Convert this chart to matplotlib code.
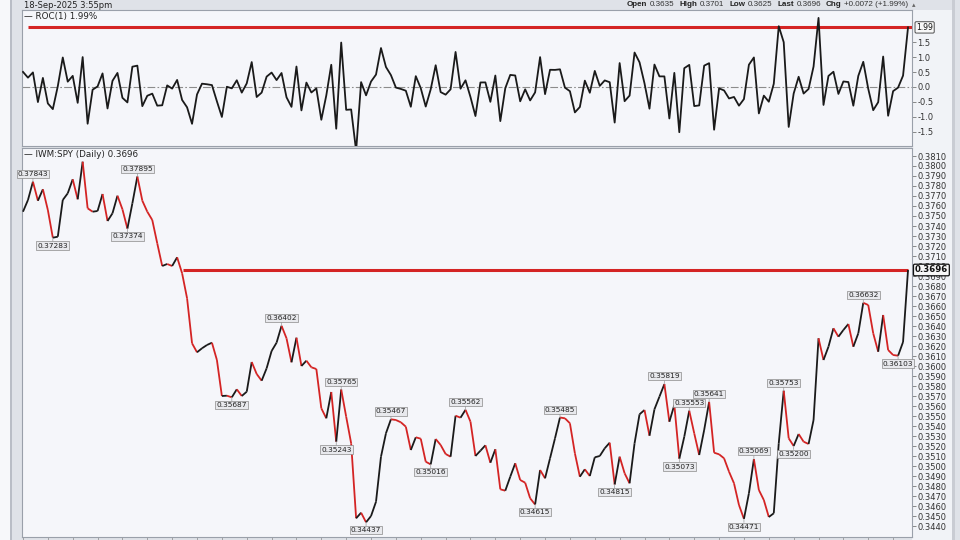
import numpy as np
import matplotlib
matplotlib.use("Agg")
import matplotlib.pyplot as plt
from matplotlib.collections import LineCollection
from matplotlib.patches import Rectangle

# ---- data -------------------------------------------------------------
prev_close = 0.37355
price = [
    0.37543, 0.37660, 0.37843, 0.37653, 0.37767, 0.37560, 0.37283, 0.37293, 0.37660, 0.37727,
    0.37867, 0.37667, 0.38043, 0.37577, 0.37543, 0.37550, 0.37720, 0.37450, 0.37527, 0.37703,
    0.37567, 0.37374, 0.37627, 0.37895, 0.37653, 0.37543, 0.37460, 0.37227, 0.37000, 0.37020,
    0.37000, 0.37087, 0.36927, 0.36677, 0.36227, 0.36137, 0.36177, 0.36210, 0.36233, 0.36060,
    0.35700, 0.35703, 0.35687, 0.35767, 0.35700, 0.35743, 0.36040, 0.35920, 0.35853, 0.35977,
    0.36150, 0.36233, 0.36402, 0.36277, 0.36037, 0.36283, 0.36000, 0.36053, 0.35987, 0.35970,
    0.35577, 0.35477, 0.35740, 0.35243, 0.35765, 0.35493, 0.35227, 0.34477, 0.34533, 0.34437,
    0.34500, 0.34643, 0.35093, 0.35327, 0.35467, 0.35460, 0.35437, 0.35393, 0.35160, 0.35287,
    0.35273, 0.35043, 0.35016, 0.35270, 0.35210, 0.35120, 0.35093, 0.35503, 0.35483, 0.35562,
    0.35443, 0.35100, 0.35153, 0.35207, 0.35033, 0.35167, 0.34767, 0.34753, 0.34893, 0.35027,
    0.34860, 0.34833, 0.34677, 0.34615, 0.34960, 0.34877, 0.35077, 0.35277, 0.35485, 0.35477,
    0.35427, 0.35127, 0.34893, 0.34967, 0.34900, 0.35087, 0.35100, 0.35177, 0.35233, 0.34815,
    0.35093, 0.34927, 0.34827, 0.35227, 0.35517, 0.35560, 0.35303, 0.35567, 0.35693, 0.35819,
    0.35443, 0.35610, 0.35073, 0.35293, 0.35553, 0.35327, 0.35110, 0.35360, 0.35641, 0.35133,
    0.35117, 0.35077, 0.34943, 0.34827, 0.34610, 0.34471, 0.34727, 0.35069, 0.34760, 0.34660,
    0.34490, 0.34527, 0.35227, 0.35753, 0.35277, 0.35200, 0.35320, 0.35243, 0.35220, 0.35460,
    0.36277, 0.36060, 0.36193, 0.36377, 0.36293, 0.36360, 0.36420, 0.36193, 0.36327, 0.36632,
    0.36610, 0.36327, 0.36143, 0.36510, 0.36160, 0.36110, 0.36103, 0.36240, 0.36960,
]

# swing high / low annotations (index into price, side of label)
label_idx = [2, 6, 21, 23, 42, 52, 63, 64, 69, 74, 82, 89, 103, 108,
             119, 129, 132, 134, 138, 145, 147, 153, 155, 169, 176]
label_side = ["up", "dn", "dn", "up", "dn", "up", "dn", "up", "dn", "up", "dn", "up", "dn", "up",
              "dn", "up", "dn", "up", "up", "dn", "up", "up", "dn", "up", "dn"]

price_ticks = [0.3440 + 0.001 * k for k in range(38)]
roc_ticks = [-1.5, -1.0, -0.5, 0.0, 0.5, 1.0, 1.5]

header_date = "18-Sep-2025 3:55pm"
quote_lab = ["Open", "High", "Low", "Last", "Chg"]
quote_val = ["0.3635", "0.3701", "0.3625", "0.3696", "+0.0072 (+1.99%)"]

# ---- derived indicator: ROC(1) -----------------------------------------
px = np.array(price)
closes = np.concatenate([[prev_close], px])
roc = 100 * np.diff(closes) / closes[:-1]
x = np.arange(len(px))

# ---- figure -------------------------------------------------------------
W, H = 960, 540
fig = plt.figure(figsize=(9.6, 5.4), dpi=100, facecolor="#dfe2e8")


def rect(x0, y0, x1, y1):
    return [x0 / W, 1 - y1 / H, (x1 - x0) / W, (y1 - y0) / H]


def ftext(px_x, px_y, s, **kw):
    return fig.text(px_x / W, 1 - px_y / H, s, **kw)


# background bits around the panels (kept under the axes)
for (bx, by, bw, bh, c) in [(912, 0, 40, 530, "#f1f3f7"), (0, 0, 10, 540, "#f7f8fa"),
                            (10, 0, 2, 540, "#b9bdc6"), (952, 0, 3, 540, "#c9ccd3")]:
    fig.patches.append(Rectangle((bx / W, by / H), bw / W, bh / H, transform=fig.transFigure,
                                 fc=c, ec="none", zorder=-10))

ax_roc = fig.add_axes(rect(22, 10, 912, 146))
ax_px = fig.add_axes(rect(22, 148, 912, 537))

panel_bg = "#f5f6fa"
red = "#d42424"
for ax in (ax_roc, ax_px):
    ax.set_facecolor(panel_bg)
    for sp in ax.spines.values():
        sp.set_color("#9aa0aa")
        sp.set_linewidth(0.8)
    ax.yaxis.tick_right()
    ax.tick_params(axis="y", labelsize=6, labelcolor="#333333", color="#777777",
                   length=3, width=0.6, pad=1)
    ax.set_xlim(-0.2, 178.8)

# ---- ROC panel ----------------------------------------------------------
ax_roc.plot(x, roc, color="#1a1a1a", lw=1.3, zorder=3)
ax_roc.axhline(0, color="#8c8c8c", lw=0.8, ls=(0, (7, 2, 1.5, 2)), zorder=1)
ax_roc.hlines(roc[-1], 1, 178.8, color=red, lw=2.2, zorder=2)
ax_roc.set_ylim(-1.967, 2.567)
ax_roc.set_yticks(roc_ticks)
ax_roc.set_yticklabels([f"{v:.1f}" for v in roc_ticks])
ax_roc.set_xticks([])
ax_roc.annotate(f"{roc[-1]:.2f}", xy=(1, roc[-1]), xycoords=("axes fraction", "data"),
                xytext=(3, 0), textcoords="offset points", va="center", ha="left",
                fontsize=5.5, color="#111111", annotation_clip=False,
                bbox=dict(boxstyle="round,pad=0.15", fc="#f8f8f8", ec="#333333", lw=0.6))

# ---- price panel --------------------------------------------------------
pts = np.column_stack([x, px])
segs = np.stack([pts[:-1], pts[1:]], axis=1)
seg_col = [red if b < a else "#1a1a1a" for a, b in zip(px[:-1], px[1:])]
ax_px.add_collection(LineCollection(segs, colors=seg_col, linewidths=1.3, zorder=3))
ax_px.hlines(px[-1], 32.2, x[-1], color=red, lw=2.2, zorder=2)
ax_px.set_ylim(0.3429, 0.3818)
ax_px.set_yticks(price_ticks)
ax_px.set_yticklabels([f"{v:.4f}" for v in price_ticks])
ax_px.set_xticks(np.arange(0, 179, 5))
ax_px.tick_params(axis="x", length=2, width=0.5, color="#888888", labelbottom=False)

for i, side in zip(label_idx, label_side):
    dy = 3.5 if side == "up" else -3.5
    ax_px.annotate(f"{price[i]:.5f}", xy=(i, price[i]), xytext=(0, dy),
                   textcoords="offset points", ha="center",
                   va="bottom" if side == "up" else "top",
                   fontsize=5.3, color="#222222", zorder=5,
                   bbox=dict(boxstyle="square,pad=0.15", fc="#e8e9ed", ec="#8a8a8a", lw=0.5),
                   arrowprops=dict(arrowstyle="-", color="#999999", lw=0.5,
                                   shrinkA=0, shrinkB=0))

ax_px.annotate(f"{price[-1]:.4f}", xy=(1, price[-1]), xycoords=("axes fraction", "data"),
               xytext=(2, 0), textcoords="offset points", va="center", ha="left",
               fontsize=6.2, fontweight="bold", color="#111111", annotation_clip=False,
               zorder=6,
               bbox=dict(boxstyle="round,pad=0.15", fc="#f8f8f8", ec="#111111", lw=0.9))

# ---- text ---------------------------------------------------------------
ftext(24, 5, header_date, fontsize=6, color="#222222", va="center")

# quote line laid out piece by piece from the left
renderer = fig.canvas.get_renderer()
cur = 627
for lab, val in zip(quote_lab, quote_val):
    t = ftext(cur, 5, lab, fontsize=5.8, family="Liberation Sans", fontweight="bold",
              color="#222222", va="center")
    cur += t.get_window_extent(renderer).width + 2.5
    t = ftext(cur, 5, val, fontsize=5.8, family="Liberation Sans", color="#333333",
              va="center")
    cur += t.get_window_extent(renderer).width + 5
ftext(cur - 2, 5, "\u25b4", fontsize=5, color="#666666", va="center")

ftext(24, 17, "\u2014 ROC(1) %.2f%%" % roc[-1], fontsize=6.3, color="#222222", va="center")
ftext(24, 155, "\u2014 IWM:SPY (Daily) %.4f" % price[-1], fontsize=6.3, color="#222222",
      va="center")

fig.savefig("out.png", dpi=100, facecolor=fig.get_facecolor())
